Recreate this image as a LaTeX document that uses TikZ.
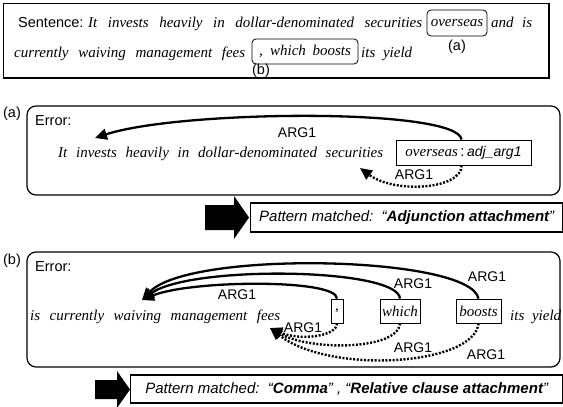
\documentclass[tikz,border=0pt]{standalone}
\usepackage{fontspec}
\setmainfont{Liberation Serif}
\setsansfont{Liberation Sans}
\usetikzlibrary{arrows.meta,calc}

\tikzset{
  frame/.style={draw, line width=1pt},
  panel/.style={draw, line width=1.2pt, rounded corners=9pt},
  wordbox/.style={draw, line width=0.8pt, inner sep=0pt},
  ser/.style={font=\fontsize{15}{16}\selectfont\itshape, inner sep=0pt},
  sans/.style={font=\fontsize{14.5}{16}\selectfont\sffamily, inner sep=0pt},
  lbl/.style={font=\fontsize{14}{15}\selectfont\sffamily, inner sep=0pt},
  patbox/.style={draw, line width=1.4pt, inner sep=0pt, anchor=west,
    font=\fontsize{15}{16}\selectfont\sffamily\itshape},
  depsolid/.style={line width=2.3pt, -{Triangle[length=12pt,width=11pt]}},
  depdot/.style={line width=2.4pt, dash pattern=on 2pt off 1.6pt,
    -{Triangle[length=12pt,width=11pt]}},
  blockarrow/.style={fill=black},
}

\begin{document}
\begin{tikzpicture}[x=1pt,y=-1pt]
\useasboundingbox (0,0) rectangle (563,407);

% ---- the full sentence ----
\draw[frame] (3,3) rectangle (549,78);
\draw[line width=1.8pt] (549,3) -- (549,78) -- (3,78);

\node[sans, anchor=base west] (sentlbl) at (18,27) {Sentence:};
\node[ser, anchor=base west] (line1) at (88,27)
  {\makebox[334pt][s]{It invests heavily in dollar-denominated securities}};
\node[ser, wordbox, rounded corners=4pt, minimum width=60pt, minimum height=26pt]
  (ovs) at (457,23) {overseas};
\node[ser, anchor=base west] (andis) at (491,27) {\makebox[41pt][s]{and is}};

\node[ser, anchor=base west] (line2) at (14,57)
  {\makebox[231pt][s]{currently waiving management fees}};
\node[ser, wordbox, rounded corners=4pt, minimum width=106pt, minimum height=25pt]
  (wbs) at (305,51.5) {\makebox[92pt][s]{, which boosts}};
\node[ser, anchor=base west] (yield1) at (361,57) {\makebox[51pt][s]{its yield}};
\node[sans] (marka) at (457,47) {(a)};
\node[sans] (markb) at (261,71) {(b)};

% ---- panel (a) ----
\node[sans] (pa) at (12,114) {(a)};
\draw[panel] (27,106) rectangle (560,195);
\node[sans, anchor=west] (erra) at (35,121) {Error:};
\node[ser, anchor=base west] (senta) at (58,157)
  {\makebox[325pt][s]{It invests heavily in dollar-denominated securities}};
\node[wordbox, minimum width=135pt, minimum height=25pt] (ova) at (463.5,152.5)
  {\fontsize{15}{16}\selectfont\itshape overseas\,{\sffamily\upshape :\,}{\fontsize{14}{16}\selectfont\sffamily adj\_arg1}};
\coordinate (tipa) at (95,138);
\coordinate (dtipa) at (360,168);
\draw[depsolid] ($(ova.north west)+(66,0)$) .. controls +(-4,-32) and (180,110) .. (tipa);
\node[lbl] (arga1) at (297,133) {ARG1};
\draw[depdot] ($(ova.south west)+(66,0)$) .. controls +(0,24) and (395,194) .. (dtipa);
\node[lbl] (arga2) at (414,175) {ARG1};

% ---- pattern (a) ----
\fill[blockarrow] (205,205) -- (234,205) -- (234,196) -- (249,217.5) -- (234,239)
  -- (234,230) -- (205,230) -- cycle;
\node[patbox, minimum width=312pt, minimum height=29pt] (pma) at (250,217.5)
  {Pattern matched:~~“\textbf{Adjunction attachment}”};

% ---- panel (b) ----
\node[sans] (pb) at (12,261) {(b)};
\draw[panel] (27,252) rectangle (560,367);
\node[sans, anchor=west] (errb) at (35,267) {Error:};
\node[ser, anchor=base west] (sentb) at (30,320)
  {\makebox[250pt][s]{is currently waiving management fees}};
\node[ser, wordbox, minimum width=12pt, minimum height=24pt] (cb) at (337,311) {,};
\node[ser, wordbox, minimum width=40pt, minimum height=24pt] (whb) at (400,311) {which};
\node[ser, wordbox, minimum width=45pt, minimum height=24pt] (bb) at (478.5,311) {boosts};
\node[ser, anchor=base west] (yieldb) at (510,320) {\makebox[51pt][s]{its yield}};

\coordinate (tipb) at (142,300);
\coordinate (dtipb) at (270,328);
\draw[depsolid] (cb.north) .. controls +(0,-20) and (190,280) .. (tipb);
\draw[depsolid] (whb.north) .. controls +(-2,-31) and (190,265) .. (tipb);
\draw[depsolid] (bb.north) .. controls +(-8,-43) and (190,250) .. (tipb);
\node[lbl] (argb1) at (237,295) {ARG1};
\node[lbl] (argb2) at (413,284) {ARG1};
\node[lbl] (argb3) at (487,277) {ARG1};

\draw[depdot] (cb.south) .. controls +(0,13) and (300,341) .. (dtipb);
\draw[depdot] (whb.south) .. controls +(-2,27) and (310,351) .. (dtipb);
\draw[depdot] (bb.south) .. controls +(-4,42) and (330,375) .. (dtipb);
\node[lbl] (argb4) at (303,328) {ARG1};
\node[lbl] (argb5) at (413,348) {ARG1};
\node[lbl] (argb6) at (486,355) {ARG1};

% ---- pattern (b) ----
\fill[blockarrow] (95,380) -- (117,380) -- (117,371) -- (130,389.5) -- (117,408)
  -- (117,399) -- (95,399) -- cycle;
\node[patbox, minimum width=432pt, minimum height=28pt] (pmb) at (130,389)
  {Pattern matched:~~“\textbf{Comma}” , “\textbf{Relative clause attachment}”};
\end{tikzpicture}
\end{document}
